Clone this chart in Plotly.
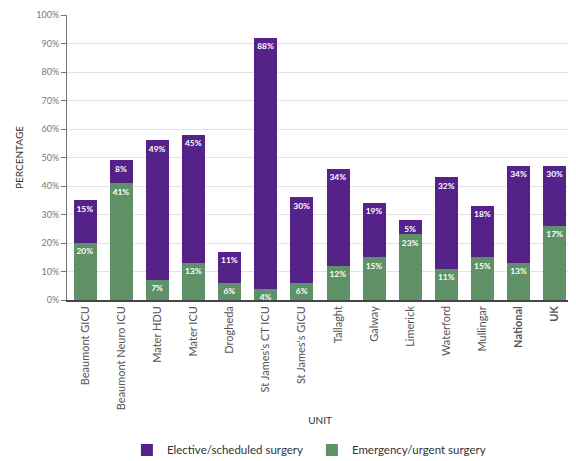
import plotly.graph_objects as go

units = ["Beaumont GICU", "Beaumont Neuro ICU", "Mater HDU", "Mater ICU", "Drogheda",
         "St James's CT ICU", "St James's GICU", "Tallaght", "Galway", "Limerick",
         "Waterford", "Mullingar", "<b>National</b>", "<b>UK</b>"]
emergency = [20, 41, 7, 13, 6, 4, 6, 12, 15, 23, 11, 15, 13, 26]
elective = [15, 8, 49, 45, 11, 88, 30, 34, 19, 5, 32, 18, 34, 21]
emergency_labels = ["20%", "41%", "7%", "13%", "6%", "4%", "6%", "12%", "15%", "23%", "11%", "15%", "13%", "17%"]
elective_labels = ["15%", "8%", "49%", "45%", "11%", "88%", "30%", "34%", "19%", "5%", "32%", "18%", "34%", "30%"]
yticks = list(range(0, 101, 10))

PURPLE = "#55228a"
GREEN = "#5e9166"
FONT = "Lato"

fig = go.Figure()
fig.add_trace(go.Bar(
    x=units, y=emergency, name="Emergency/urgent surgery",
    marker=dict(color=GREEN, line=dict(width=0)),
    text=emergency_labels, textposition="inside", insidetextanchor="end",
    textfont=dict(color="white", size=9, family=FONT, weight="bold"),
    textangle=0,
))
fig.add_trace(go.Bar(
    x=units, y=elective, name="Elective/scheduled surgery",
    marker=dict(color=PURPLE, line=dict(width=0)),
    text=elective_labels, textposition="inside", insidetextanchor="end",
    textfont=dict(color="white", size=9, family=FONT, weight="bold"),
    textangle=0,
))

fig.update_layout(
    barmode="stack",
    bargap=0.36,
    width=566, height=450,
    margin=dict(l=59, r=1, t=7, b=158, autoexpand=False),
    paper_bgcolor="white", plot_bgcolor="white",
    font=dict(family=FONT, size=10, color="#555555"),
    uniformtext=dict(mode="show", minsize=8),
    legend=dict(orientation="h", x=0.484, xanchor="center", y=-0.526, yanchor="middle",
                traceorder="reversed", font=dict(size=11.5, color="#333333"),
                itemwidth=30, entrywidth=140),
    xaxis=dict(
        title=dict(text="UNIT", font=dict(size=10, color="#333333"), standoff=8),
        tickangle=-90, tickfont=dict(size=11, color="#555555"),
        showline=True, linecolor="#444444", linewidth=1.5,
        ticks="", showgrid=False, automargin=False,
    ),
    yaxis=dict(
        title=dict(text="PERCENTAGE", font=dict(size=10, color="#333333"), standoff=10),
        range=[0, 100], tickvals=yticks, ticktext=[f"{v}%" for v in yticks],
        tickfont=dict(size=9, color="#777777"),
        showgrid=True, gridcolor="#e3e3e3", gridwidth=1,
        showline=True, linecolor="#777777", linewidth=1,
        ticks="outside", ticklen=5, tickcolor="#777777",
        zeroline=False, automargin=False,
    ),
)

fig.write_html("out.html")
